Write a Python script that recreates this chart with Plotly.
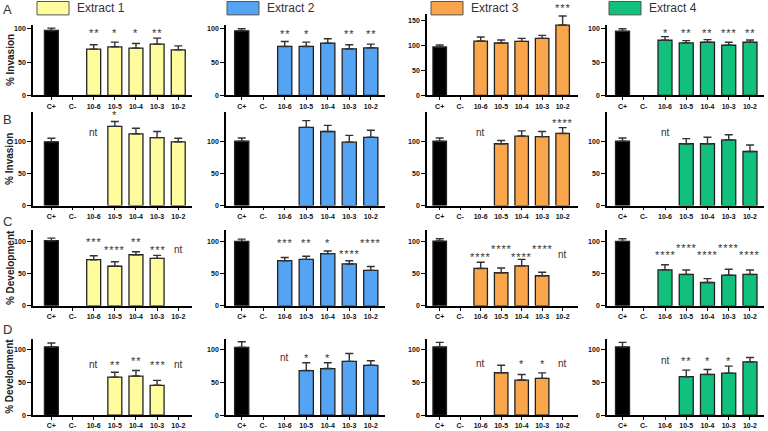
import plotly.graph_objects as go

# ---------------- DATA ----------------
CATS = ["C+", "C-", "10-6", "10-5", "10-4", "10-3", "10-2"]
EXTRACTS = ["Extract 1", "Extract 2", "Extract 3", "Extract 4"]
ROW_LETTERS = ["A", "B", "C", "D"]
ROW_TITLES = ["% Invasion", "% Invasion", "% Development", "% Development"]

# Row A - invasion
A_vals = [
    [97.5, None, 69.5, 73, 71, 77, 68.3],
    [97, None, 73.5, 73.5, 78.5, 70, 71.5],
    [96.7, None, 108.7, 104.7, 108, 114, 140.7],
    [96.5, None, 82.8, 78.8, 79.8, 75.3, 79.8],
]
A_err = [
    [3.5, 0, 6.5, 7, 7, 9, 6],
    [3, 0, 7.5, 6.5, 6.5, 6, 5.5],
    [4, 0, 8, 6, 6, 6, 18],
    [3.5, 0, 5.5, 3.5, 4, 4.5, 3.5],
]
A_sig = [
    ["", "", "**", "*", "*", "**", ""],
    ["", "", "**", "*", "", "**", "**"],
    ["", "", "", "", "", "", "***"],
    ["", "", "*", "**", "**", "***", "**"],
]
# Row B - invasion
B_vals = [
    [99, None, None, 123, 111.5, 105.5, 99],
    [100, None, None, 121.5, 115, 98.5, 106],
    [100, None, None, 96, 108, 107, 112],
    [100, None, None, 96, 96, 102, 84],
]
B_err = [
    [5.5, 0, 0, 7.5, 8.5, 9.5, 5.5],
    [5, 0, 0, 10.5, 9.5, 10.5, 11],
    [5, 0, 0, 5, 8, 8, 9],
    [5, 0, 0, 8, 10, 8, 10],
]
B_sig = [
    ["", "", "nt", "*", "", "", ""],
    ["", "", "", "", "", "", ""],
    ["", "", "nt", "", "", "", "****"],
    ["", "", "nt", "", "", "", ""],
]
# Row C - development
C_vals = [
    [101, None, 71.6, 61.4, 79.2, 73.6, None],
    [100, None, 70, 72, 81, 65, 55],
    [100.5, None, 58, 51.3, 62, 46.7, None],
    [100, None, 55.8, 48.7, 36.2, 47.7, 48.7],
]
C_err = [
    [4, 0, 6, 7, 4.6, 4.6, 0],
    [3.5, 0, 5, 5, 4, 5, 6],
    [3.5, 0, 9.5, 7.5, 10, 5.5, 0],
    [4, 0, 8, 7, 6, 9, 7],
]
C_sig = [
    ["", "", "***", "****", "**", "***", "nt"],
    ["", "", "***", "**", "*", "****", "****"],
    ["", "", "****", "****", "****", "****", "nt"],
    ["", "", "****", "****", "****", "****", "****"],
]
# Row D - development
D_vals = [
    [104, None, None, 58, 59.6, 45.5, None],
    [103.5, None, None, 68, 71, 82, 76],
    [104, None, None, 64.6, 53.5, 56, None],
    [104, None, None, 58.6, 62, 64, 81.3],
]
D_err = [
    [6, 0, 0, 7.5, 8.5, 7.5, 0],
    [8.5, 0, 0, 12, 9, 12, 7],
    [7, 0, 0, 11.5, 8.5, 8.5, 0],
    [7, 0, 0, 10, 7.7, 10.7, 6.7],
]
D_sig = [
    ["", "", "nt", "**", "**", "***", "nt"],
    ["", "", "nt", "*", "*", "", ""],
    ["", "", "nt", "", "*", "*", "nt"],
    ["", "", "nt", "**", "*", "*", ""],
]

VALS = [A_vals, B_vals, C_vals, D_vals]
ERRS = [A_err, B_err, C_err, D_err]
SIGS = [A_sig, B_sig, C_sig, D_sig]

# ---------------- STYLE / LAYOUT ----------------
W, H = 768, 431
COLORS = ["#FFFC9E", "#55A3F3", "#F9A54B", "#12C07E"]
CTRL_COLOR = "#000000"
FONT = "Liberation Sans"

COL_PX = [(33, 192), (226, 385), (427, 578), (607, 764)]
COL_RANGE = [(-0.87, 6.65), (-0.73, 6.66), (-0.62, 6.75), (-0.73, 6.66)]
ROW_PX = [(25, 96), (113, 207), (232, 308), (341, 418)]   # (top px, bottom px)
ROW_TOP = [106, 145, 117, 116.7]
SPECIAL = {(0, 2): dict(top_px=14, top=163, ticks=[0, 50, 100, 150])}

LBL_Y = {
    (0, 0): [None, None, 95, 95, 95, 95, None],
    (0, 1): [None, None, 93.5, 93.5, None, 93.5, 93.5],
    (0, 2): [None] * 6 + [175],
    (0, 3): [None, None, 95, 95, 95, 95, 95],
    (1, 0): [None, None, 114, 141.5, None, None, None],
    (1, 1): [None] * 7,
    (1, 2): [None, None, 114, None, None, None, 129],
    (1, 3): [None, None, 114, None, None, None, None],
    (2, 0): [None, None, 99.5, 86.6, 99.5, 86.6, 86.6],
    (2, 1): [None, None, 98, 98, 98, 81.5, 98],
    (2, 2): [None, None, 76.5, 89, 76.5, 89, 79],
    (2, 3): [None, None, 79, 90.7, 79, 90.7, 79],
    (3, 0): [None, None, 76.8, 76.8, 83.8, 76.8, 76.8],
    (3, 1): [None, None, 88, 88, 88, None, None],
    (3, 2): [None, None, 79, None, 79, 79, 79],
    (3, 3): [None, None, 83, 83, 83, 83, None],
}


def px_x(p):
    return p / W


def px_y(p):
    return 1 - p / H


fig = go.Figure()
annotations = []
shapes = []
axes = {}

for r in range(4):
    for c in range(4):
        idx = r * 4 + c + 1
        suffix = "" if idx == 1 else str(idx)
        xn, yn = "x" + suffix, "y" + suffix
        vals = VALS[r][c]
        errs = ERRS[r][c]
        cols = [CTRL_COLOR] + [COLORS[c]] * 6
        fig.add_trace(go.Bar(
            x=CATS, y=vals, xaxis=xn, yaxis=yn, width=0.66,
            marker=dict(color=cols, line=dict(color="#222222", width=1.3)),
            error_y=dict(type="data", symmetric=False, array=errs,
                         arrayminus=[0] * 7, color="#333333",
                         thickness=1.4, width=4),
            showlegend=False, hoverinfo="skip",
        ))
        ytop, ybot = ROW_PX[r]
        top = ROW_TOP[r]
        ticks = [0, 50, 100]
        sp = SPECIAL.get((r, c))
        if sp:
            ytop, top, ticks = sp["top_px"], sp["top"], sp["ticks"]
        x0, x1 = COL_PX[c]
        axes["xaxis" + suffix] = dict(
            domain=[px_x(x0), px_x(x1)], anchor=yn, type="category",
            categoryorder="array", categoryarray=CATS, range=list(COL_RANGE[c]),
            ticks="outside", ticklen=3, tickwidth=1.2, tickcolor="black",
            showline=True, linecolor="black", linewidth=1.6,
            showgrid=False, zeroline=False, fixedrange=True,
            tickfont=dict(family=FONT, size=7, color="#111111", weight="bold"),
        )
        axes["yaxis" + suffix] = dict(
            domain=[px_y(ybot), px_y(ytop)], anchor=xn, range=[0, top],
            tickmode="array", tickvals=ticks, ticks="outside", ticklen=4,
            tickwidth=1.2, tickcolor="black",
            showline=True, linecolor="black", linewidth=1.6,
            showgrid=False, zeroline=False, fixedrange=True,
            tickfont=dict(family=FONT, size=7, color="#111111", weight="bold"),
        )
        ppu = (ybot - ytop) / top
        sig = SIGS[r][c]
        ys = LBL_Y[(r, c)]
        for k, lab in enumerate(sig):
            if not lab or ys[k] is None:
                continue
            if lab == "nt":
                txt, fsz, ysh = "nt", 10, 0.0
            else:
                txt, fsz, ysh = "\u200a".join(lab), 11, -0.5
            yv = ys[k]
            if yv > top:
                ysh += (yv - top) * ppu
                yv = top
            annotations.append(dict(
                x=k, y=yv, xref=xn, yref=yn, text=txt,
                showarrow=False, xanchor="center", yanchor="middle",
                yshift=ysh, font=dict(family=FONT, size=fsz, color="#333333"),
            ))

LETTER_Y = [10, 120, 223, 332]
for r in range(4):
    annotations.append(dict(
        x=px_x(1), y=px_y(LETTER_Y[r]), xref="paper", yref="paper",
        text=ROW_LETTERS[r], showarrow=False, xanchor="left", yanchor="middle",
        font=dict(family=FONT, size=13, color="#333333"),
    ))
    yt, yb = ROW_PX[r]
    annotations.append(dict(
        x=px_x(10), y=px_y((yb + yt) / 2), xref="paper", yref="paper",
        text=ROW_TITLES[r], textangle=-90, showarrow=False,
        xanchor="center", yanchor="middle",
        font=dict(family=FONT, size=10, color="#222222", weight="bold"),
    ))

BOX_X = [37, 227, 431, 609]
for c in range(4):
    bx = BOX_X[c]
    shapes.append(dict(
        type="rect", xref="paper", yref="paper",
        x0=px_x(bx), x1=px_x(bx + 32), y0=px_y(15), y1=px_y(1.5),
        fillcolor=COLORS[c], line=dict(color="#555555", width=1),
    ))
    annotations.append(dict(
        x=px_x(bx + 38), y=px_y(8), xref="paper", yref="paper",
        text=EXTRACTS[c], showarrow=False, xanchor="left", yanchor="middle",
        font=dict(family=FONT, size=12, color="#333333"),
    ))

fig.update_layout(
    width=W, height=H, autosize=False,
    margin=dict(l=0, r=0, t=0, b=0),
    paper_bgcolor="white", plot_bgcolor="rgba(0,0,0,0)",
    annotations=annotations, shapes=shapes, bargap=0.3,
    **axes,
)

fig.write_html("out.html")
